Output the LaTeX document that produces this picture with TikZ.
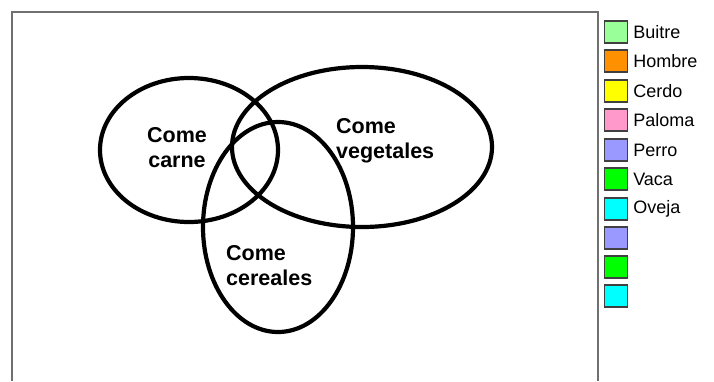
\documentclass[tikz,border=0pt]{standalone}
\usepackage{fontspec}
\setmainfont{Liberation Sans}
\usetikzlibrary{shapes.geometric,positioning}
\definecolor{frameg}{HTML}{707070}
\definecolor{cbuitre}{HTML}{99FF99}
\definecolor{chombre}{HTML}{FF9000}
\definecolor{ccerdo}{HTML}{FFFF00}
\definecolor{cpaloma}{HTML}{FF99CC}
\definecolor{cperro}{HTML}{9999FF}
\definecolor{cvaca}{HTML}{00FF00}
\definecolor{coveja}{HTML}{00FFFF}

\begin{document}
\begin{tikzpicture}[x=1pt, y=-1pt,
  set/.style={ellipse, draw, line width=4.2pt, inner sep=0pt},
  lbl/.style={align=left, font=\fontsize{21.5}{25}\selectfont\bfseries, inner sep=0pt},
  key/.style={rectangle, draw=black!75, line width=1.2pt, minimum width=23pt, minimum height=22pt, inner sep=0pt},
  kname/.style={anchor=west, font=\fontsize{18}{20}\selectfont, inner sep=0pt}
]
  \useasboundingbox (0,0) rectangle (714,381);
  % frame
  \draw[frameg, line width=2pt] (12,381) -- (12,12) -- (598,12) -- (598,381);
  % sets
  \node[set, minimum width=178, minimum height=144] (carne) at (189,150) {};
  \node[set, minimum width=260, minimum height=160] (veget) at (362,147) {};
  \node[set, minimum width=150, minimum height=210] (cereal) at (278,227) {};
  \node[lbl, align=center] (tcarne) at (177,148) {Come\\carne};
  \node[lbl, anchor=west] (tveget) at (336,141) {Come\\vegetales};
  \node[lbl, anchor=west] (tcereal) at (226,266) {Come\\cereales};
  % legend
  \node[key, fill=cbuitre] (k1) at (616,32) {};
  \node[key, fill=chombre] (k2) at (616,61) {};
  \node[key, fill=ccerdo] (k3) at (616,91) {};
  \node[key, fill=cpaloma] (k4) at (616,120) {};
  \node[key, fill=cperro] (k5) at (616,150) {};
  \node[key, fill=cvaca] (k6) at (616,179) {};
  \node[key, fill=coveja] (k7) at (616,209) {};
  \node[key, fill=cperro] (k8) at (616,238) {};
  \node[key, fill=cvaca] (k9) at (616,267) {};
  \node[key, fill=coveja] (k10) at (616,296) {};
  \node[kname] (n1) at ([xshift=5pt]k1.east) {Buitre};
  \node[kname] (n2) at ([xshift=5pt]k2.east) {Hombre};
  \node[kname] (n3) at ([xshift=5pt]k3.east) {Cerdo};
  \node[kname] (n4) at ([xshift=5pt]k4.east) {Paloma};
  \node[kname] (n5) at ([xshift=5pt]k5.east) {Perro};
  \node[kname] (n6) at ([xshift=5pt]k6.east) {Vaca};
  \node[kname] (n7) at ([xshift=5pt]k7.east) {Oveja};
\end{tikzpicture}
\end{document}
